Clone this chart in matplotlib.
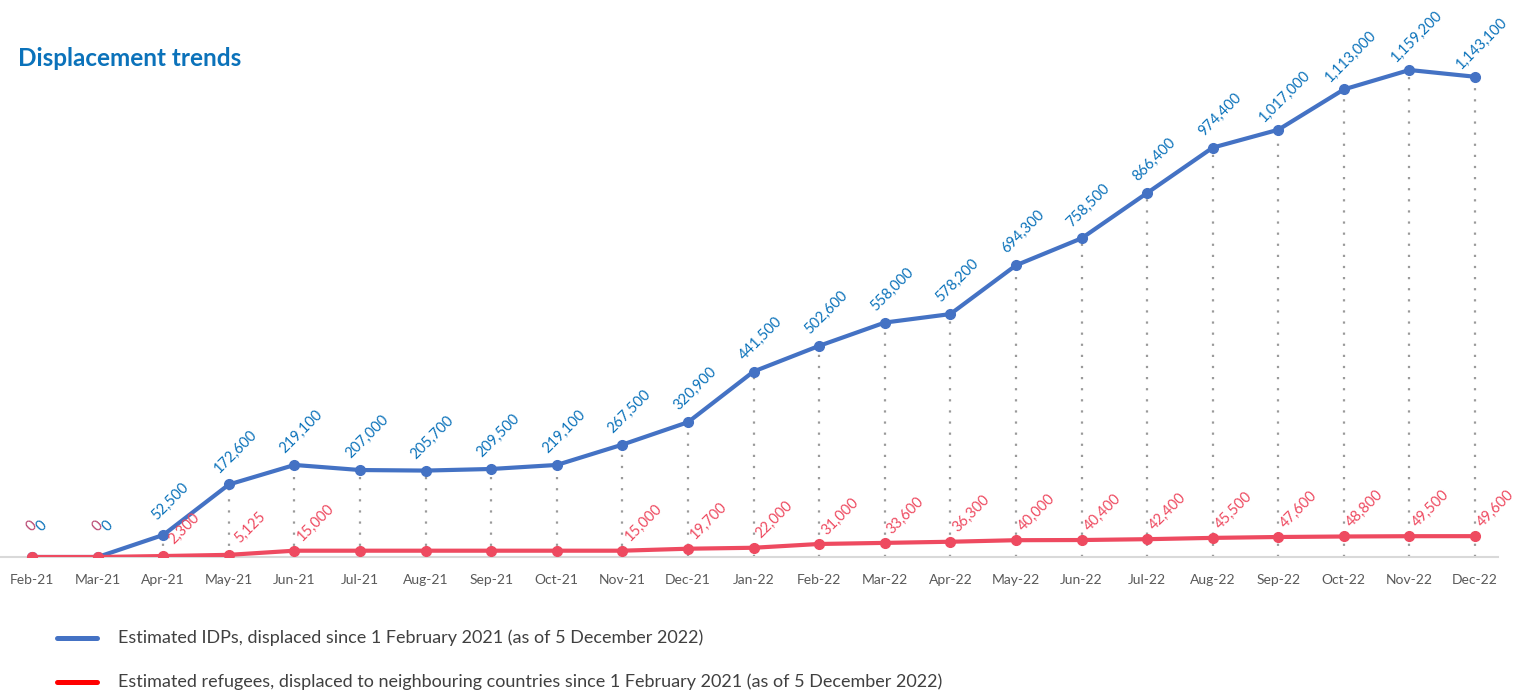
import matplotlib
matplotlib.use("Agg")
import matplotlib.pyplot as plt
from matplotlib.lines import Line2D

plt.rcParams['font.family'] = ['Lato', 'DejaVu Sans']

# Data
months = ['Feb-21', 'Mar-21', 'Apr-21', 'May-21', 'Jun-21', 'Jul-21', 'Aug-21',
          'Sep-21', 'Oct-21', 'Nov-21', 'Dec-21', 'Jan-22', 'Feb-22', 'Mar-22',
          'Apr-22', 'May-22', 'Jun-22', 'Jul-22', 'Aug-22', 'Sep-22', 'Oct-22',
          'Nov-22', 'Dec-22']
idps = [0, 0, 52500, 172600, 219100, 207000, 205700, 209500, 219100, 267500,
        320900, 441500, 502600, 558000, 578200, 694300, 758500, 866400, 974400,
        1017000, 1113000, 1159200, 1143100]
refugees = [0, 0, 2300, 5125, 15000, 15000, 15000, 15000, 15000, 15000, 19700,
            22000, 31000, 33600, 36300, 40000, 40400, 42400, 45500, 47600, 48800,
            49500, 49600]
# months where the refugee value is labelled
refugee_labelled = [True, True, True, True, True, False, False, False, False,
                    True, True, True, True, True, True, True, True, True, True,
                    True, True, True, True]

idp_label = 'Estimated IDPs, displaced since 1 February 2021 (as of 5 December 2022)'
ref_label = ('Estimated refugees, displaced to neighbouring countries since '
             '1 February 2021 (as of 5 December 2022)')

blue = '#4472C4'
blue_text = '#0B72BA'
red = '#EE4A60'

fig = plt.figure(figsize=(15.16, 6.94), dpi=100)
ax = fig.add_axes([0.0, 1 - 557 / 694, 1498 / 1516, (557 - 30) / 694])

x = list(range(len(months)))

# dotted drop lines
ax.vlines(x, 0, idps, colors='#9A9A9A', linestyles=(0, (1, 4)),
          linewidth=1.6, zorder=1)

ax.plot(x, idps, color=blue, lw=3, marker='o', markersize=7, zorder=3)
ax.plot(x, refugees, color=red, lw=3, marker='o', markersize=7, zorder=4)

# data labels
for i, v in enumerate(idps):
    off = (7, 22) if v == 0 else (5, 24)
    ax.annotate(f'{v:,}', (i, v), xytext=off, textcoords='offset points',
                rotation=45, rotation_mode='anchor', ha='center', va='center',
                fontsize=10.5, color=blue_text, zorder=5)

for i, v in enumerate(refugees):
    if not refugee_labelled[i]:
        continue
    if v == 0:
        off, col = (0, 22), '#B8446F'
    else:
        off, col = (15, 20), red
    ax.annotate(f'{v:,}', (i, v), xytext=off, textcoords='offset points',
                rotation=45, rotation_mode='anchor', ha='center', va='center',
                fontsize=10.5, color=col, zorder=5)

ax.set_xlim(-0.49, 22.35)
ax.set_ylim(0, 1254400)
ax.set_xticks(x)
ax.set_xticklabels(months, fontsize=10, color='#595959')
ax.tick_params(axis='x', length=0, pad=12)
ax.set_yticks([])
for s in ['top', 'left', 'right']:
    ax.spines[s].set_visible(False)
ax.spines['bottom'].set_color('#D9D9D9')
ax.spines['bottom'].set_linewidth(1.5)

fig.text(18 / 1516, 1 - 58 / 694, 'Displacement trends', fontsize=17.5,
         fontweight='bold', color=blue_text, va='center', ha='left')

# legend drawn below the plot
for y_px, col, txt in [(638, blue, idp_label), (682, '#FF0000', ref_label)]:
    yf = 1 - y_px / 694
    fig.add_artist(Line2D([57 / 1516, 97 / 1516], [yf, yf], color=col, lw=3.6,
                          solid_capstyle='round', transform=fig.transFigure))
    fig.text(118 / 1516, yf, txt, fontsize=13, color='#404040', va='center',
             ha='left')

fig.savefig('out.png', dpi=100)
